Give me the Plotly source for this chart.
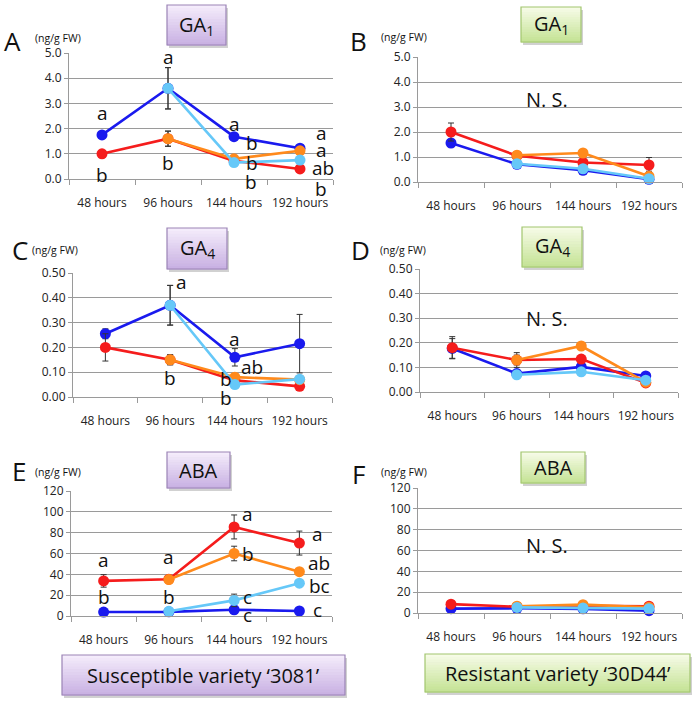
import plotly.graph_objects as go

W, H = 697, 705

hours = ["48 hours", "96 hours", "144 hours", "192 hours"]

# panel A - GA1 susceptible
a_blue = [1.75, 3.6, 1.68, 1.22]
a_red = [1.0, 1.6, 0.72, 0.4]
a_orange = [None, 1.6, 0.8, 1.12]
a_lblue = [None, 3.6, 0.65, 0.75]
a_blue_err = [0.08, 0.82, 0.1, 0.08]
a_red_err = [0.08, 0.3, 0.08, 0.05]
a_orange_err = [0, 0.3, 0.1, 0.1]
a_lblue_err = [0, 0.82, 0.08, 0.1]

# panel B - GA1 resistant
b_blue = [1.56, 0.71, 0.47, 0.11]
b_red = [2.0, 1.05, 0.78, 0.68]
b_orange = [None, 1.07, 1.16, 0.23]
b_lblue = [None, 0.73, 0.53, 0.13]
b_blue_err = [0.15, 0.08, 0.08, 0.05]
b_red_err = [0.36, 0.1, 0.1, 0.3]
b_orange_err = [0, 0.1, 0.1, 0.2]
b_lblue_err = [0, 0.05, 0.05, 0.05]

# panel C - GA4 susceptible
c_blue = [0.255, 0.37, 0.16, 0.215]
c_red = [0.2, 0.15, 0.067, 0.043]
c_orange = [None, 0.15, 0.08, 0.07]
c_lblue = [None, 0.37, 0.05, 0.072]
c_blue_err = [0.02, 0.08, 0.035, 0.118]
c_red_err = [0.055, 0.02, 0.01, 0.01]
c_orange_err = [0, 0.02, 0.01, 0.01]
c_lblue_err = [0, 0.08, 0.01, 0.01]

# panel D - GA4 resistant
d_blue = [0.177, 0.075, 0.102, 0.065]
d_red = [0.18, 0.13, 0.134, 0.037]
d_orange = [None, 0.13, 0.187, 0.04]
d_lblue = [None, 0.07, 0.082, 0.048]
d_blue_err = [0.04, 0.01, 0.01, 0.005]
d_red_err = [0.045, 0.02, 0.015, 0.005]
d_orange_err = [0, 0.03, 0.01, 0.005]
d_lblue_err = [0, 0.01, 0.01, 0.005]

# panel E - ABA susceptible
e_blue = [3.8, 4.0, 6.0, 4.8]
e_red = [33.7, 35.3, 85.5, 70.0]
e_orange = [None, 35.0, 60.0, 42.5]
e_lblue = [None, 4.5, 15.0, 31.5]
e_blue_err = [1, 1, 1, 1]
e_red_err = [6, 2, 11.5, 11.5]
e_orange_err = [0, 2, 7, 3]
e_lblue_err = [0, 1, 6, 2]

# panel F - ABA resistant
f_blue = [4.2, 4.5, 4.0, 2.2]
f_red = [8.5, 6.0, 7.0, 6.5]
f_orange = [None, 6.5, 8.0, 5.5]
f_lblue = [None, 5.4, 4.8, 4.2]
f_blue_err = [1, 1, 1, 1]
f_red_err = [1, 1, 1, 1]
f_orange_err = [0, 1, 1, 1]
f_lblue_err = [0, 1, 1, 1]

# significance letters: (letter, hour index, y, x shift px, y shift px)
a_letters = [("a", 0, 2.6, 0, 0), ("b", 0, 0.15, 0, 0), ("a", 1, 4.85, 0, 0), ("b", 1, 0.65, 0, 0),
             ("a", 2, 2.2, 0, 0), ("b", 2, 1.42, 18, 0), ("b", 2, 0.62, 18, 0), ("b", 2, 0, 17, -3),
             ("a", 3, 1.82, 21, 0), ("a", 3, 1.15, 21, 0), ("ab", 3, 0.42, 23, 0), ("b", 3, 0, 21, -10)]
c_letters = [("a", 1, 0.465, 11, 0), ("b", 1, 0.075, 0, 0), ("a", 2, 0.235, 0, 0),
             ("ab", 2, 0.12, 17, 0), ("b", 2, 0.074, -9, 0), ("b", 2, 0, -9, -1)]
e_letters = [("a", 0, 53.6, 0, 0), ("b", 0, 18.3, 0, 0), ("a", 1, 56.8, 0, 0), ("b", 1, 18.3, 0, 0),
             ("a", 2, 97.5, 13, 0), ("b", 2, 59.4, 14, 0), ("c", 2, 18.3, 13, 0), ("c", 2, 1.3, 13, 0),
             ("a", 3, 78.6, 18, 0), ("ab", 3, 51.3, 20, 0), ("bc", 3, 28.5, 20, 0), ("c", 3, 6.1, 18, 0)]

BLUE, RED, ORANGE, LBLUE = "#1a1aee", "#f51c1c", "#ff8a1c", "#66c8f8"
FONT = "Open Sans, DejaVu Sans, sans-serif"
GRID = "#9a9a9a"

panels = [
    # data, y range, dtick, fmt, plot box px (x0, x1, y0, y1)
    ((a_blue, a_red, a_orange, a_lblue), (a_blue_err, a_red_err, a_orange_err, a_lblue_err), 5, 1, ".1f", (69, 333, 53, 179)),
    ((b_blue, b_red, b_orange, b_lblue), (b_blue_err, b_red_err, b_orange_err, b_lblue_err), 5, 1, ".1f", (418, 682, 57, 182)),
    ((c_blue, c_red, c_orange, c_lblue), (c_blue_err, c_red_err, c_orange_err, c_lblue_err), 0.5, 0.1, ".2f", (73, 332, 273, 397)),
    ((d_blue, d_red, d_orange, d_lblue), (d_blue_err, d_red_err, d_orange_err, d_lblue_err), 0.5, 0.1, ".2f", (420, 678, 269, 392)),
    ((e_blue, e_red, e_orange, e_lblue), (e_blue_err, e_red_err, e_orange_err, e_lblue_err), 120, 20, "d", (71, 332, 491, 616)),
    ((f_blue, f_red, f_orange, f_lblue), (f_blue_err, f_red_err, f_orange_err, f_lblue_err), 120, 20, "d", (418, 682, 488, 613)),
]


def px(x):
    return x / W


def py(y):
    return 1 - y / H


fig = go.Figure()
layout = {}
for i, (series, errs, ymax, dt, fmt, box) in enumerate(panels):
    n = "" if i == 0 else str(i + 1)
    x0, x1, y0, y1 = box
    for vals, err, col in zip(series, errs, (BLUE, RED, ORANGE, LBLUE)):
        fig.add_trace(go.Scatter(
            x=hours, y=vals, xaxis="x" + n, yaxis="y" + n, mode="lines+markers",
            line=dict(color=col, width=2.6), marker=dict(color=col, size=11),
            error_y=dict(type="data", array=err, color="#333333", thickness=1, width=3),
            showlegend=False, connectgaps=False, cliponaxis=False))
    layout["xaxis" + n] = dict(
        domain=[px(x0), px(x1)], anchor="y" + n, type="category", tickson="boundaries",
        ticks="outside", ticklen=5, tickcolor=GRID, showline=True, linecolor=GRID, linewidth=1.2,
        showgrid=False, tickfont=dict(size=12, color="#222", family=FONT), ticklabelstandoff=12,
        tickangle=0, range=[-0.5, 3.5], fixedrange=True, automargin=False)
    layout["yaxis" + n] = dict(
        domain=[py(y1), py(y0)], anchor="x" + n, range=[0, ymax], dtick=dt, tickformat=fmt,
        showgrid=True, gridcolor=GRID, gridwidth=1.2, showline=True, linecolor=GRID, linewidth=1.2,
        ticks="outside", ticklen=4, tickcolor=GRID, zeroline=False, automargin=False,
        tickfont=dict(size=12, color="#222", family=FONT), fixedrange=True)

annotations = []
for letters, n in ((a_letters, ""), (c_letters, "3"), (e_letters, "5")):
    for txt, xi, yv, xs, ys in letters:
        annotations.append(dict(x=xi, y=yv, xref="x" + n, yref="y" + n, text=txt, showarrow=False,
                                xshift=xs, yshift=ys, font=dict(size=19, color="#111", family=FONT)))

shapes = []
PURPLE = ("#f4ecfb", "#c9b1e3", "#9b84b6")
GREEN = ("#f6fbe6", "#c5e396", "#a2c66f")


def lerp(c1, c2, t):
    a = [int(c1[k:k + 2], 16) for k in (1, 3, 5)]
    b = [int(c2[k:k + 2], 16) for k in (1, 3, 5)]
    return "#" + "".join("%02x" % round(a[j] + (b[j] - a[j]) * t) for j in range(3))


def label(x, y, text, size, anchor="center"):
    annotations.append(dict(x=px(x), y=py(y), xref="paper", yref="paper", text=text,
                            showarrow=False, xanchor=anchor, yanchor="middle",
                            font=dict(size=size, color="#111", family=FONT)))


def gbox(x0, x1, y0, y1, pal, text, size):
    top, bot, border = pal
    # shadow
    shapes.append(dict(type="rect", xref="paper", yref="paper", x0=px(x0 + 2), x1=px(x1 + 2),
                       y0=py(y1 + 3), y1=py(y0 + 3), fillcolor="rgba(0,0,0,0.18)", line=dict(width=0)))
    steps = 14
    for s in range(steps):
        ya = y0 + (y1 - y0) * s / steps
        yb = y0 + (y1 - y0) * (s + 1) / steps
        shapes.append(dict(type="rect", xref="paper", yref="paper", x0=px(x0), x1=px(x1),
                           y0=py(yb + 0.5), y1=py(ya), fillcolor=lerp(top, bot, s / (steps - 1)),
                           line=dict(width=0)))
    shapes.append(dict(type="rect", xref="paper", yref="paper", x0=px(x0), x1=px(x1),
                       y0=py(y1), y1=py(y0), line=dict(color=border, width=1.2)))
    label((x0 + x1) / 2, (y0 + y1) / 2, text, size)


gbox(167, 226, 5, 45, PURPLE, "GA<sub>1</sub>", 20)
gbox(521, 581, 7, 42, GREEN, "GA<sub>1</sub>", 20)
gbox(167, 227, 228, 269, PURPLE, "GA<sub>4</sub>", 20)
gbox(522, 582, 227, 267, GREEN, "GA<sub>4</sub>", 20)
gbox(167, 230, 452, 488, PURPLE, "ABA", 20)
gbox(521, 585, 452, 483, GREEN, "ABA", 20)
gbox(62, 345, 655, 695, PURPLE, "Susceptible variety \u20183081\u2019", 20)
gbox(425, 690, 654, 692, GREEN, "Resistant variety \u201830D44\u2019", 20)

panel_tags = [("A", 12, 41, 33, 38), ("B", 358, 41, 379, 37), ("C", 20, 250, 30, 250),
              ("D", 360, 250, 378, 250), ("E", 19, 471, 33, 472), ("F", 359, 474, 379, 472)]
for tag, tx, ty, ux, uy in panel_tags:
    label(tx, ty, tag, 26)
    label(ux, uy, "(ng/g FW)", 10.5, anchor="left")

for nx, ny in ((547, 100), (547, 318), (547, 545)):
    label(nx, ny, "N. S.", 20)

fig.update_layout(width=W, height=H, margin=dict(l=0, r=0, t=0, b=0, autoexpand=False),
                  plot_bgcolor="white", paper_bgcolor="white", annotations=annotations,
                  shapes=shapes, **layout)
fig.write_html("out.html", config={"displayModeBar": False},
               post_script="document.body.style.margin='0px';")
